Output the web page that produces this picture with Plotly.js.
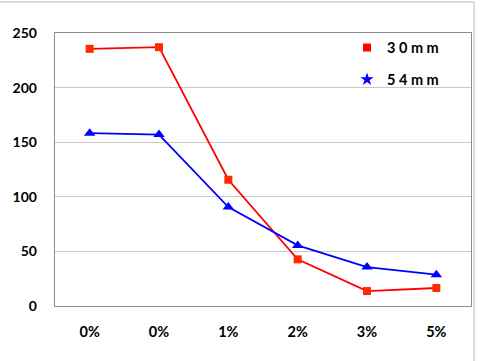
<!DOCTYPE html>
<html><head><meta charset="utf-8">
<script src="https://cdn.plot.ly/plotly-3.0.1.min.js"></script>
<style>html,body{margin:0;padding:0;background:#fff;}#chart{width:481px;height:361px;}</style>
</head><body><div id="chart"></div>
<script>
var tickLabels = ["0%", "0%", "1%", "2%", "3%", "5%"];
var seriesNames = ["3 0 m m", "5 4 m m"];
var values30 = [235.5, 237, 115.6, 42.7, 13.7, 16.5];
var values54 = [158.3, 157, 90.6, 55.5, 35.7, 28.7];
var xIdx = tickLabels.map(function(_, i){ return i; });
var fontFam = "Lato, 'Open Sans', sans-serif";
var traces = [
  {x: xIdx, y: values30, name: seriesNames[0], type: 'scatter', mode: 'lines+markers',
   showlegend: false, line: {color: '#ff0000', width: 1.8},
   marker: {symbol: 'square', size: 8, color: '#ff2a00'}},
  {x: xIdx, y: values54, name: seriesNames[1], type: 'scatter', mode: 'lines+markers',
   showlegend: false, line: {color: '#0000ff', width: 1.8},
   marker: {symbol: 'triangle-up', size: 10, color: '#0000ff'}},
  {x: [null], y: [null], name: seriesNames[0], type: 'scatter', mode: 'markers',
   legendgroup: 'a', marker: {symbol: 'square', size: 8, color: '#ff0000'}},
  {x: [null], y: [null], name: seriesNames[1], type: 'scatter', mode: 'markers',
   legendgroup: 'b', marker: {symbol: 'star', size: 10, color: '#0000ff'}}
];
var layout = {
  width: 481, height: 361,
  margin: {l: 55, r: 10, t: 33, b: 55},
  paper_bgcolor: '#fff', plot_bgcolor: '#fff',
  font: {family: fontFam, size: 14, color: '#000', weight: 'bold'},
  showlegend: true,
  legend: {x: 0.702, y: 1.005, xanchor: 'left', yanchor: 'top', bgcolor: 'rgba(0,0,0,0)',
           traceorder: 'grouped', tracegroupgap: 10, itemwidth: 30,
           font: {family: fontFam, size: 14.5, color: '#000', weight: 'bold'}},
  xaxis: {range: [-0.5, 5.5], tickmode: 'array', tickvals: xIdx, ticktext: tickLabels,
          showgrid: false, zeroline: false, showline: true, mirror: true,
          linecolor: '#8c8c8c', linewidth: 1.3, ticks: '', ticklabelstandoff: 12,
          tickfont: {family: fontFam, size: 14.5, weight: 'bold'}},
  yaxis: {range: [0, 250], tickmode: 'array', tickvals: [0, 50, 100, 150, 200, 250],
          showgrid: true, gridcolor: '#c8c8c8', gridwidth: 1, zeroline: false,
          showline: true, mirror: true, linecolor: '#8c8c8c', linewidth: 1.3,
          ticks: '', ticklabelstandoff: 14,
          tickfont: {family: fontFam, size: 14, weight: 'bold'}},
  shapes: [
    {type: 'line', xref: 'paper', yref: 'paper', x0: -0.14, x1: 1.0075, y0: 1.114, y1: 1.114,
     line: {color: '#c8c8c8', width: 1.2}},
    {type: 'line', xref: 'paper', yref: 'paper', x0: 1.0075, x1: 1.0075, y0: -0.21, y1: 1.114,
     line: {color: '#c8c8c8', width: 1.2}}
  ]
};
Plotly.newPlot('chart', traces, layout, {displayModeBar: false, staticPlot: true});
</script></body></html>
